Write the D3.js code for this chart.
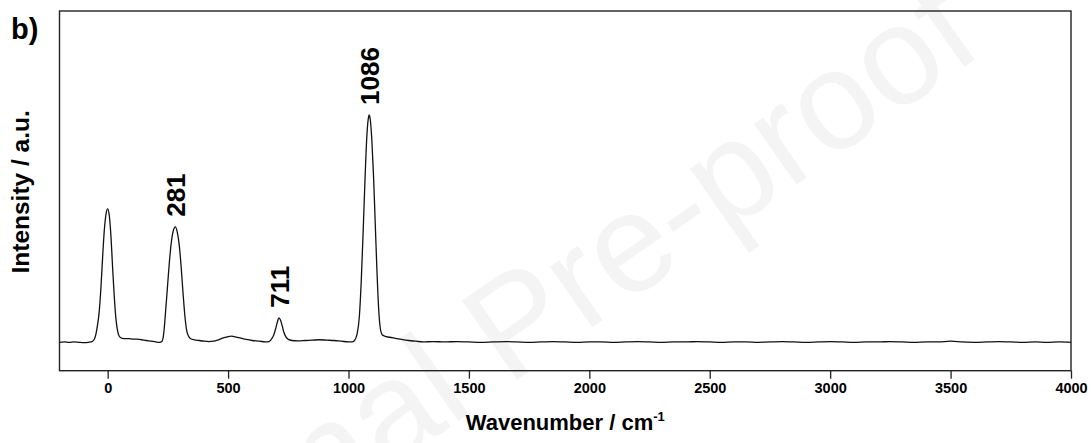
<!DOCTYPE html>
<html>
<head>
<meta charset="utf-8">
<script src="https://cdn.jsdelivr.net/npm/d3@7"></script>
<style>
  html, body { margin: 0; padding: 0; background: #fff; }
  svg { display: block; }
  text { font-family: "Liberation Sans", Arial, sans-serif; font-weight: bold; fill: #000; }
</style>
</head>
<body>
<svg id="chart" width="1092" height="443"></svg>
<script>
// Raman spectrum: wavenumber (cm-1) and intensity (a.u.)
const wavenumbers = [
  -200, -180, -160, -140, -120, -100, -80, -65, -55, -45, -35, -28, -21, -14, -7, 0,
  7, 14, 21, 28, 35, 42, 50, 60, 75, 90, 105, 120, 140, 160, 180, 200, 215,
  226, 233, 240, 248, 256, 264, 272, 281, 289, 297, 305, 313, 321, 328, 336, 345,
  360, 380, 400, 420, 440, 460, 480, 500, 515, 530, 550, 575, 600, 630, 655,
  670, 680, 690, 698, 705, 711, 718, 725, 732, 740, 750, 765,
  790, 820, 850, 880, 910, 940, 970, 1000, 1015,
  1025, 1035, 1045, 1053, 1061, 1069, 1076, 1082, 1086, 1091, 1097, 1104, 1111, 1118, 1125, 1132, 1140,
  1150, 1170, 1195, 1220, 1250, 1280, 1310,
  1350, 1400, 1450, 1500, 1550, 1600, 1650, 1700, 1750, 1800, 1850, 1900, 1950, 2000,
  2050, 2100, 2150, 2200, 2250, 2300, 2350, 2400, 2450, 2500, 2550, 2600, 2650, 2700,
  2750, 2800, 2850, 2900, 2950, 3000, 3050, 3100, 3150, 3200, 3250, 3300, 3350, 3400,
  3450, 3500, 3550, 3600, 3650, 3700, 3750, 3800, 3850, 3900, 3950, 4000
];
const intensities = [
  79, 80, 79, 80, 79, 78, 79, 81, 88, 115, 165, 230, 315, 390, 435, 450,
  430, 370, 280, 200, 140, 108, 94, 90, 89, 89, 88, 88, 86, 84, 82, 80, 79,
  82, 105, 160, 230, 300, 355, 388, 400, 385, 350, 290, 215, 150, 112, 96, 89,
  86, 84, 82, 81, 82, 86, 91, 95, 96, 94, 91, 87, 84, 82, 80,
  81, 88, 100, 118, 136, 147, 140, 124, 106, 94, 87, 84,
  83, 84, 85, 86, 85, 84, 82, 80, 80,
  84, 100, 150, 250, 390, 540, 650, 700, 711, 695, 640, 540, 410, 280, 175, 118, 100,
  96, 93, 90, 87, 84, 82, 80,
  81, 80, 81, 80, 79, 80, 81, 80, 79, 80, 81, 80, 79, 80,
  80, 79, 80, 81, 80, 79, 80, 80, 81, 80, 79, 80, 80, 79,
  80, 81, 80, 79, 80, 81, 80, 79, 80, 80, 81, 80, 79, 80,
  80, 82, 80, 79, 80, 81, 80, 79, 80, 79, 80, 79
];
const peakLabels = [281, 711, 1086];
const xTicks = [0, 500, 1000, 1500, 2000, 2500, 3000, 3500, 4000];
const xDomain = [-200, 4000];
const yDomain = [0, 1000];

const svg = d3.select("#chart");
const plot = { left: 59.5, top: 11, right: 1071, bottom: 370.7 };

// faint diagonal watermark behind the chart
svg.append("text")
  .attr("transform", "translate(100,672) rotate(-35)")
  .style("font-size", "140px")
  .style("font-weight", "normal")
  .style("fill", "#f4f4f4")
  .text("Journal Pre-proof");

const x = d3.scaleLinear().domain(xDomain).range([plot.left, plot.right]);
const y = d3.scaleLinear().domain(yDomain).range([plot.bottom, plot.top]);

const spectrum = wavenumbers.map((w, i) => ({ w, v: intensities[i] }));

// spectrum trace
svg.append("path")
  .datum(spectrum)
  .attr("fill", "none")
  .attr("stroke", "#111")
  .attr("stroke-width", 1.3)
  .attr("stroke-linejoin", "round")
  .attr("d", d3.line().x(d => x(d.w)).y(d => y(d.v)).curve(d3.curveMonotoneX));

// frame around the plot area
svg.append("rect")
  .attr("x", plot.left).attr("y", plot.top)
  .attr("width", plot.right - plot.left).attr("height", plot.bottom - plot.top)
  .attr("fill", "none").attr("stroke", "#222").attr("stroke-width", 1.4);

// bottom axis
const xAxis = svg.append("g")
  .attr("transform", `translate(0,${plot.bottom})`)
  .call(d3.axisBottom(x).tickValues(xTicks).tickFormat(d3.format("d")).tickSize(8).tickPadding(4));
xAxis.select(".domain").remove();
xAxis.selectAll(".tick line").attr("stroke", "#222").attr("stroke-width", 1.3);
xAxis.selectAll(".tick text")
  .style("font-size", "14.5px")
  .style("font-family", "'Liberation Sans', Arial, sans-serif")
  .style("font-weight", "bold")
  .attr("fill", "#000");

// peak annotations
peakLabels.forEach(w => {
  const i = wavenumbers.indexOf(w);
  svg.append("text")
    .attr("transform", `translate(${x(w) + 10},${y(intensities[i]) - 10}) rotate(-90)`)
    .attr("text-anchor", "start")
    .style("font-size", "26px")
    .text(w);
});

// axis titles
const xTitle = svg.append("text")
  .attr("x", (plot.left + plot.right) / 2)
  .attr("y", 430)
  .attr("text-anchor", "middle")
  .style("font-size", "22px");
xTitle.append("tspan").text("Wavenumber / cm");
xTitle.append("tspan").attr("dy", -9).style("font-size", "13px").text("-1");

svg.append("text")
  .attr("transform", `translate(29,${(plot.top + plot.bottom) / 2 + 1}) rotate(-90)`)
  .attr("text-anchor", "middle")
  .style("font-size", "24.5px")
  .text("Intensity / a.u.");

// panel letter
svg.append("text")
  .attr("x", 11).attr("y", 39)
  .style("font-size", "29px")
  .text("b)");
</script>
</body>
</html>
